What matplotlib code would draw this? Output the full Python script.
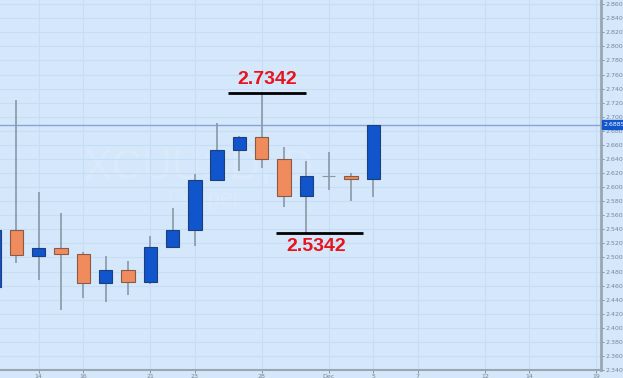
import numpy as np
import matplotlib.pyplot as plt

# daily candles, Nov 10 -> Dec 5 (trading days only)
days = ["Nov 10", "Nov 11", "Nov 14", "Nov 15", "Nov 16", "Nov 17", "Nov 18",
        "Nov 21", "Nov 22", "Nov 23", "Nov 24", "Nov 25", "Nov 28", "Nov 29",
        "Nov 30", "Dec 1", "Dec 2", "Dec 5"]
opens = [2.458, 2.539, 2.502, 2.5137, 2.5042, 2.4634, 2.4821, 2.4652, 2.5155,
         2.539, 2.6108, 2.6521, 2.6714, 2.6394, 2.5869, 2.6165, 2.6159, 2.6117]
closes = [2.539, 2.503, 2.5137, 2.5042, 2.4634, 2.4821, 2.4652, 2.5155, 2.539,
          2.6103, 2.6521, 2.6714, 2.6394, 2.5869, 2.6159, 2.6165, 2.6113, 2.6885]
highs = [2.55, 2.724, 2.5925, 2.5638, 2.508, 2.5024, 2.4948, 2.5306, 2.5709,
         2.6187, 2.6915, 2.6728, 2.7342, 2.6573, 2.637, 2.6493, 2.6201, 2.6885]
lows = [2.45, 2.492, 2.4686, 2.425, 2.4427, 2.4362, 2.4465, 2.4624, 2.5137,
        2.5165, 2.608, 2.6235, 2.6268, 2.5723, 2.5342, 2.5958, 2.5807, 2.5855]

tick_pos = [2, 4, 7, 9, 12, 15, 17, 19, 22, 24, 27]
tick_labels = ["14", "16", "21", "23", "28", "Dec", "5", "7", "12", "14", "19"]
y_ticks = [2.34 + 0.02 * k for k in range(27)]

last_price = 2.68853
swing_high = 2.7342
swing_low = 2.5342

bg = "#d5e7fb"
blue = "#1155cc"
orange = "#f08b5e"
wick = "#8a98a6"

fig = plt.figure(figsize=(6.23, 3.78), dpi=100)
fig.patch.set_facecolor(bg)
ax = fig.add_axes([0, 8 / 378, 601 / 623, 370 / 378])
ax.set_facecolor(bg)

x = np.arange(len(days))
o = np.array(opens)
c = np.array(closes)

ax.vlines(x, lows, highs, color=wick, lw=1.2, zorder=2)
bottoms = np.minimum(o, c)
heights = np.abs(c - o)
cols, edges = [], []
for oo, cc in zip(o, c):
    if cc == oo:
        cols.append(wick)
        edges.append(wick)
    elif cc > oo:
        cols.append(blue)
        edges.append("#1d3f7a")
    else:
        cols.append(orange)
        edges.append("#8a5a44")
ax.bar(x, heights, bottom=bottoms, width=0.6, color=cols, edgecolor=edges,
       linewidth=0.8, zorder=3)

# current price line
ax.axhline(last_price, color="#86a4d8", lw=1.0, zorder=1)

# swing annotations
ax.hlines(swing_high, 10.5, 14.0, color="black", lw=2, zorder=4)
ax.text(12.25, swing_high + 0.007, "%.4f" % swing_high, color="#e8141c",
        fontsize=14, fontweight="bold", family="Liberation Sans",
        ha="center", va="bottom", zorder=5)
ax.hlines(swing_low, 12.65, 16.55, color="black", lw=2, zorder=4)
ax.text(14.45, swing_low - 0.006, "%.4f" % swing_low, color="#e8141c",
        fontsize=14, fontweight="bold", family="Liberation Sans",
        ha="center", va="top", zorder=5)

# watermark
ax.text(9.15, 2.628, "XCUUSD, D", fontsize=30, family="Liberation Sans",
        color="white", alpha=0.13, ha="center", va="center", zorder=0.5)
ax.text(9.4, 2.582, "Copper", fontsize=16, family="Liberation Sans",
        color="white", alpha=0.13, ha="center", va="center", zorder=0.5)

ax.set_xlim(0.265, 27.21)
ax.set_ylim(2.3455, 2.866)

ax.set_xticks(tick_pos)
ax.set_xticklabels(tick_labels)
ax.set_yticks(y_ticks)
ax.set_yticklabels(["%.5f" % v for v in y_ticks])
ax.yaxis.tick_right()
ax.tick_params(axis="both", labelsize=4.5, colors="#7a8694", length=2, width=0.6,
               pad=1)
ax.grid(True, color="#c6ddf6", lw=0.8, zorder=0)
ax.set_axisbelow(True)

for s in ["top", "left"]:
    ax.spines[s].set_visible(False)
ax.spines["right"].set_color("#9aa6b2")
ax.spines["right"].set_linewidth(2)
ax.spines["bottom"].set_color("#9aa6b2")
ax.spines["bottom"].set_linewidth(1.5)

# last price tag on the axis
ax.annotate("%.5f" % last_price, xy=(1.0, last_price), xycoords=("axes fraction", "data"),
            xytext=(2, 0), textcoords="offset points", fontsize=4.5, color="white",
            va="center", ha="left",
            bbox=dict(boxstyle="square,pad=0.3", fc=blue, ec=blue))

plt.savefig("out.png", dpi=100, facecolor=bg)
